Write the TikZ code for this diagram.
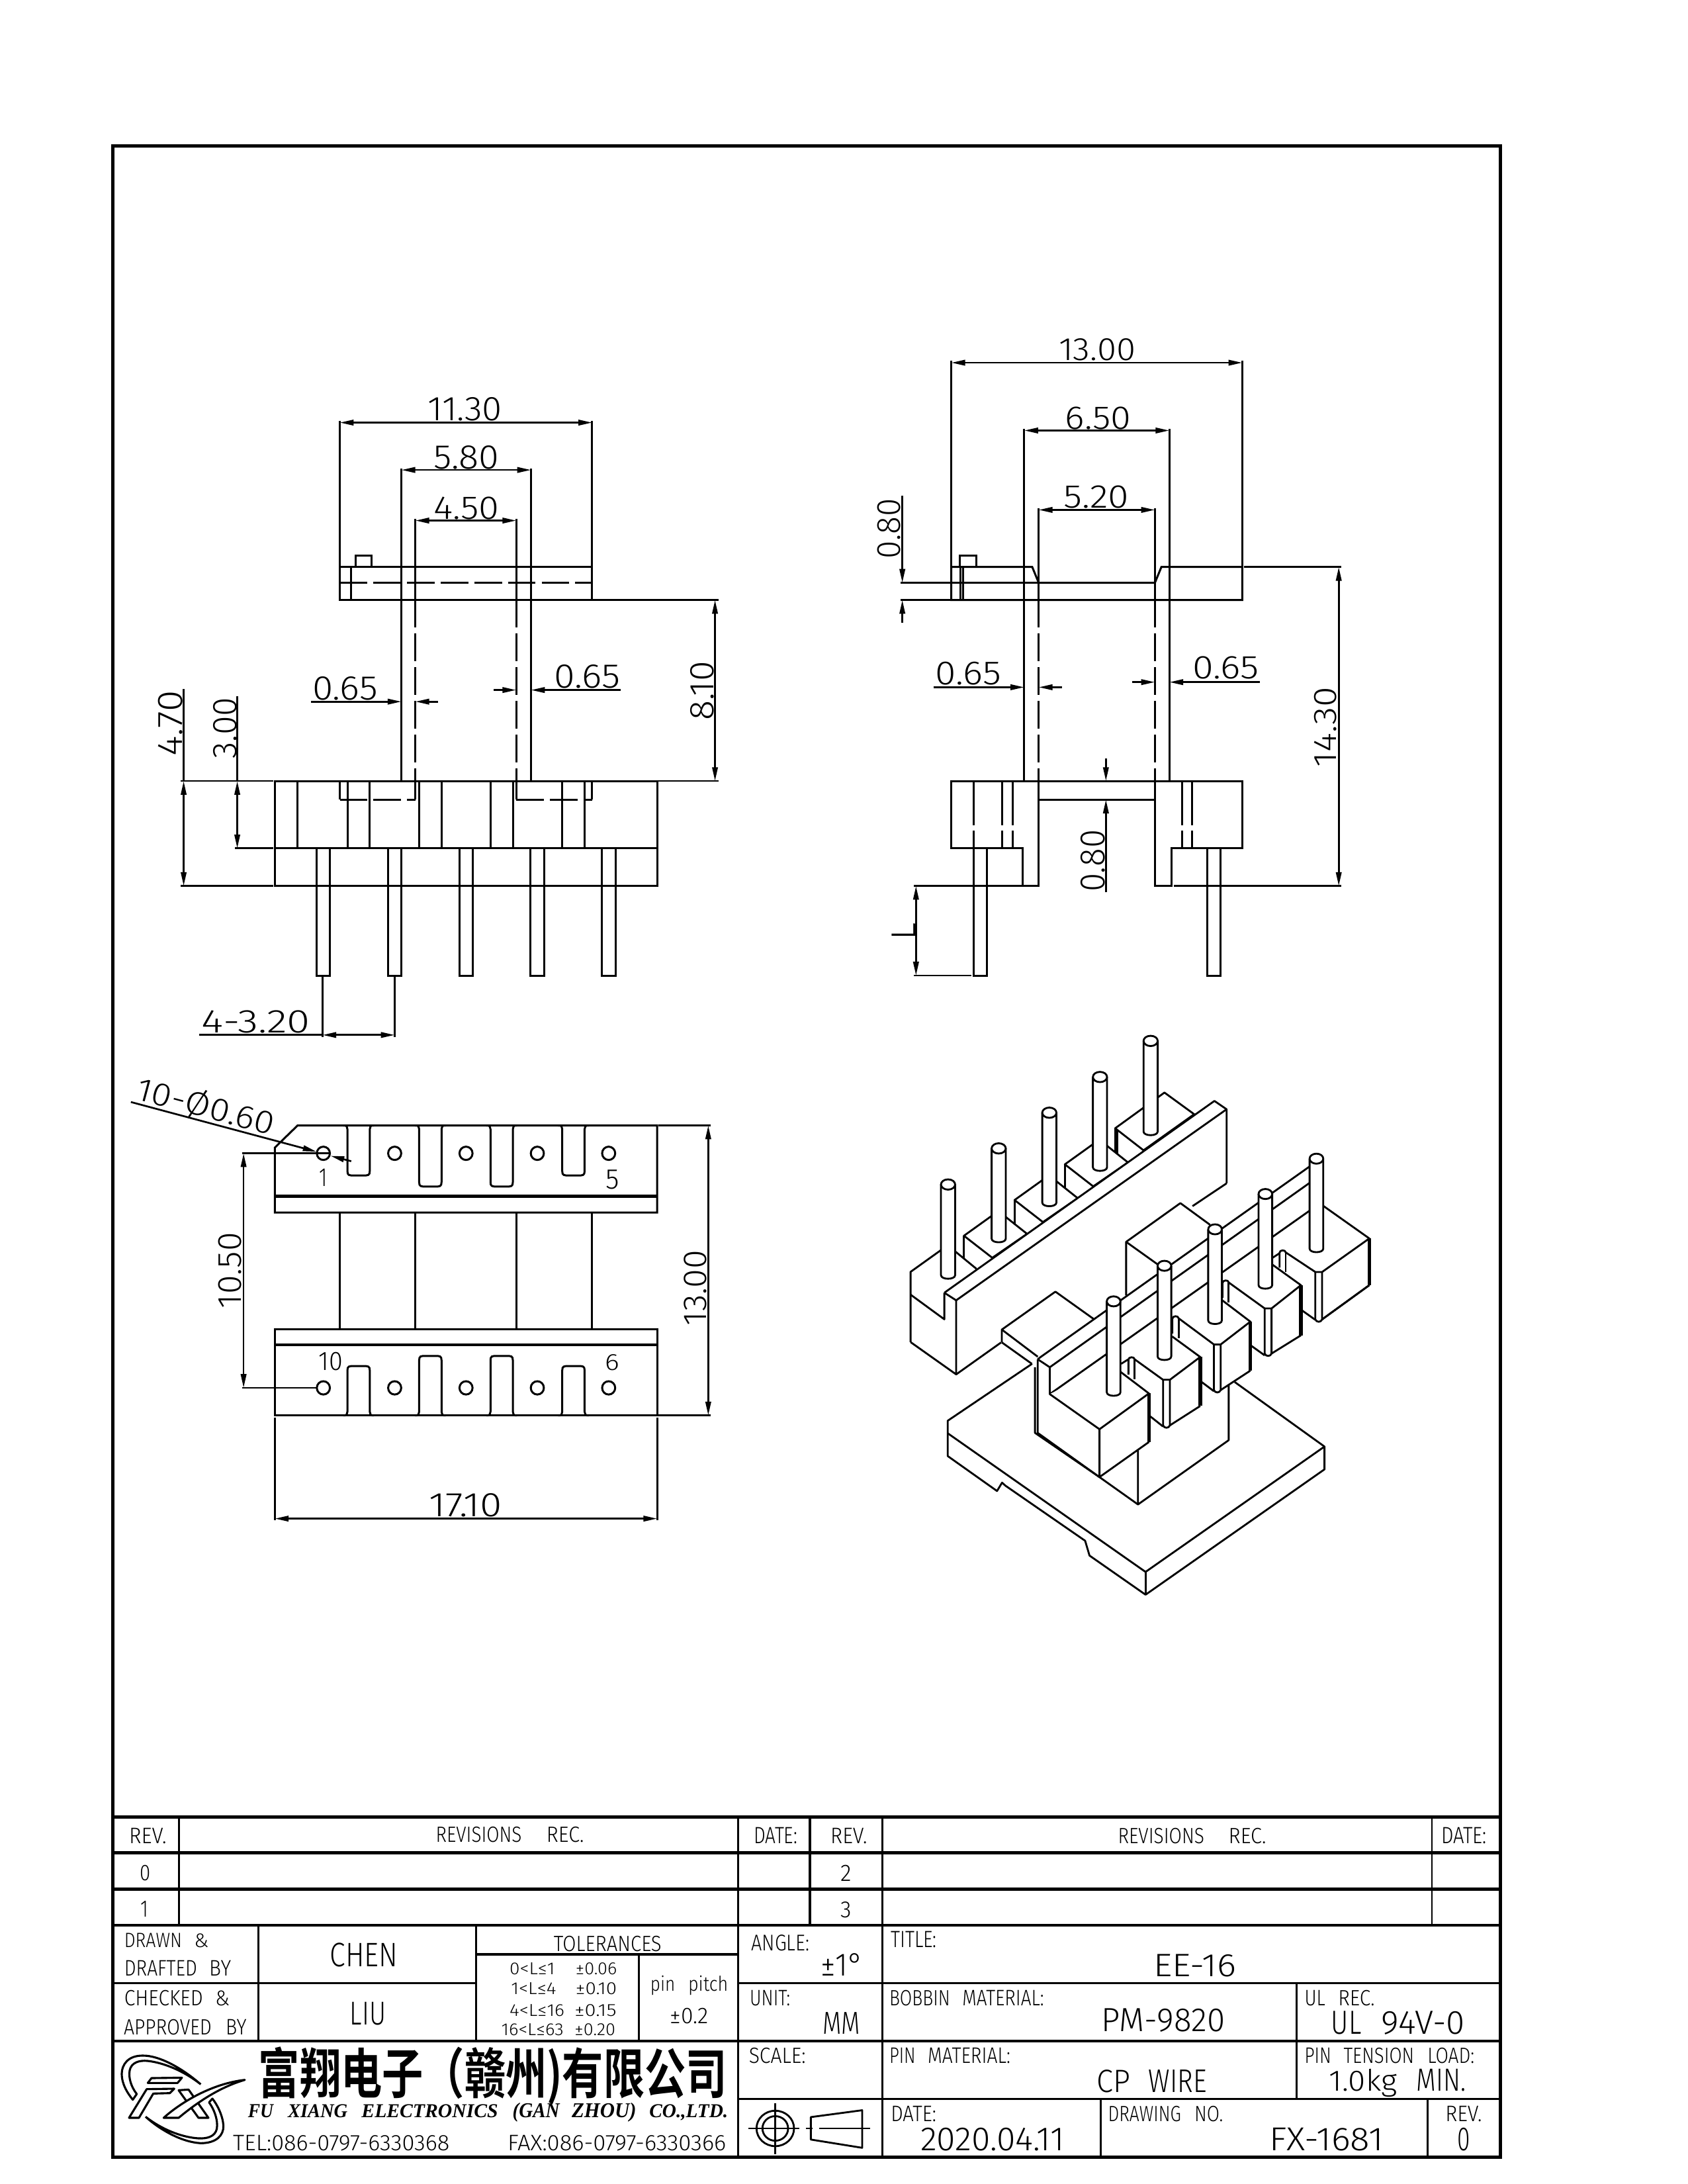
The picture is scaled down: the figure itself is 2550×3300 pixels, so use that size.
\documentclass[tikz,border=0pt]{standalone}
\usepackage{graphicx}
\usepackage{fontspec}
\usetikzlibrary{arrows.meta}
\setmainfont{Fira Sans Light}
\newfontfamily\cjkf{Noto Sans CJK SC Bold}
\newfontfamily\serf{Liberation Serif}
\newlength\pxu \setlength\pxu{0.24bp}
\def\zx{1}\def\zy{1}
% horizontal text: x1 x2 ybase ytop text
\newcommand\TXH[5]{%
  \pgfmathsetlengthmacro\tbw{(#2-#1)*\zx*0.2409}%
  \pgfmathsetlengthmacro\tbh{(#3-#4)*\zy*0.2409}%
  \pgfmathsetmacro\tbc{(#1+#2)/2}%
  \node[txt] at (\tbc,#3) {\resizebox{\tbw}{\tbh}{#5}};}
% rotated text: xbase xtop y1 y2 text
\newcommand\TXV[5]{%
  \pgfmathsetlengthmacro\tbw{(#4-#3)*\zy*0.2409}%
  \pgfmathsetlengthmacro\tbh{(#1-#2)*\zx*0.2409}%
  \pgfmathsetmacro\tbc{(#3+#4)/2}%
  \node[txt,rotate=90] at (#1,\tbc) {\resizebox{\tbw}{\tbh}{#5}};}
% plan-view slot
\newcommand\slotU[4]{%x1 x2 y0 yb
  \pgfmathsetmacro\sg{(#4>#3)?1:-1}%
  \draw[vw] ({#1-10},#3) .. controls ({#1-2},#3) .. (#1,{#3+\sg*12}) -- (#1,{#4-\sg*14}) .. controls (#1,#4) and ({#1+4},#4) .. ({#1+16},#4) -- ({#2-16},#4) .. controls ({#2-4},#4) and (#2,#4) .. (#2,{#4-\sg*14}) -- (#2,{#3+\sg*12}) .. controls ({#2+2},#3) .. ({#2+10},#3);}
% iso pin: c ytop ybottom halfwidth ry
\newcommand\ipin[5]{%
  \filldraw[iso,fill=white] ({#1-#4},#2) -- ({#1-#4},{#3-.7*#5}) .. controls ({#1-#4},{#3+.25*#5}) and ({#1+#4},{#3+.25*#5}) .. ({#1+#4},{#3-.7*#5}) -- ({#1+#4},#2);
  \filldraw[iso,fill=white] (#1,#2) ellipse [x radius=#4,y radius=#5];}
% iso front block
\newcommand\FB[9]{%nx ny cx cy rx ry bx by hr
  \fill[white] ({#1-15},{#2+12}) -- (#1,#2) -- ({#1+12},{#2+8}) -- (#3,#4) -- (#3,{#4+\hl}) -- ({#3+15},{#4+\hl+8}) -- ({#3+30},{#4+\hl}) -- (#5,{#6+#9}) -- (#5,#6) -- (#7,#8) -- cycle;
  \draw[iso] ({#1-15},{#2+75}) -- ({#1-15},{#2+10}) .. controls ({#1-15},{#2-4}) and ({#1+12},{#2-4}) .. ({#1+12},{#2+8}) -- (#3,#4) -- ({#3+30},#4) -- (#5,#6) -- (#7,#8);
  \draw[iso] ({#1+12},{#2+8}) -- ({#1+12},{#2+95});
  \draw[iso] (#3,#4) -- (#3,{#4+\hl}) .. controls ({#3+5},{#4+\hl+14}) and ({#3+25},{#4+\hl+14}) .. ({#3+30},{#4+\hl}) -- ({#3+30},#4);
  \draw[iso] ({#3+30},{#4+\hl}) -- (#5,{#6+#9});
  \draw[iso,line width=1.3bp] (#5,#6) -- (#5,{#6+#9});}
\tikzset{
  txt/.style={inner sep=0pt,outer sep=0pt,anchor=base},
  vw/.style={line width=0.72bp,line join=miter,black},
  hid/.style={vw,dash pattern=on 10bp off 2.2bp},
  dm/.style={line width=0.65bp,black},
  ar/.style={dm,-{Triangle[length=5bp,width=2bp]}},
  arb/.style={dm,{Triangle[length=5bp,width=2bp]}-{Triangle[length=5bp,width=2bp]}},
  iso/.style={line width=0.68bp,line join=round,black},
  tk/.style={line width=1.15bp,black},
  md/.style={line width=0.8bp,black},
  thn/.style={line width=0.65bp,black},
  lg/.style={line width=0.75bp,line join=round,black}
}
\begin{document}
\begin{tikzpicture}[x=0.24bp,y=-0.24bp]
\fill[white] (0,0) rectangle (2550,3300);
\useasboundingbox (0,0) rectangle (2550,3300);
% frame
\draw[line width=1.2bp] (170.5,220.5) rectangle (2267,3259);

%==================== FRONT VIEW
\def\zx{.6378}\def\zy{.7015}
\begin{scope}[shift={(150,480)},xscale=\zx,yscale=\zy]
\draw[vw] (570,537) rectangle (1168,608);
\draw[vw] (597,537) -- (597,608);
\draw[vw] (607,537) -- (607,513) -- (645,513) -- (645,537);
\draw[hid] (570,571) -- (1168,571);
\draw[vw] (716,325) -- (716,998);
\draw[vw] (1023,325) -- (1023,998);
\draw[vw] (749,433) -- (749,608);
\draw[vw] (988,433) -- (988,608);
\draw[hid] (749,608) -- (749,998);
\draw[hid] (988,608) -- (988,998);
\draw[vw] (570,222) -- (570,537);
\draw[vw] (1168,222) -- (1168,537);
\draw[vw] (416,998) rectangle (1322,1224);
\draw[vw] (416,1143) -- (1322,1143);
\foreach \x in {470,588,641,758,811,927,980,1097,1150} \draw[vw] (\x,998) -- (\x,1143);
\draw[vw] (570,998) -- (570,1038);
\draw[hid] (570,1038) -- (749,1038);
\draw[vw] (749,1038) -- (749,998);
\draw[vw] (988,998) -- (988,1038);
\draw[hid] (988,1038) -- (1168,1038);
\draw[vw] (1168,1038) -- (1168,998);
\foreach \x in {531,700,869,1038,1207} \draw[vw] ({\x-16},1143) -- ({\x-16},1417) -- ({\x+16},1417) -- ({\x+16},1143);
% dims
\draw[arb] (570,226) -- (1168,226);
\draw[arb] (716,328) -- (1023,328);
\draw[arb] (749,437) -- (988,437);
\draw[ar] (502,827) -- (716,827);
\draw[ar] (803,827) -- (749,827);
\draw[ar] (935,802) -- (988,802);
\draw[ar] (1236,802) -- (1023,802);
\draw[dm] (1168,608) -- (1467,608);
\draw[dm] (1325,998) -- (1467,998);
\draw[arb] (1459,608) -- (1459,998);
\draw[dm] (193,998) -- (413,998);
\draw[dm] (193,1224) -- (413,1224);
\draw[dm] (322,1143) -- (413,1143);
\draw[dm] (200,800) -- (200,998);
\draw[arb] (200,998) -- (200,1224);
\draw[dm] (327,815) -- (327,998);
\draw[arb] (327,998) -- (327,1143);
\draw[dm] (529,1420) -- (529,1550);
\draw[dm] (700,1420) -- (700,1550);
\draw[dm] (236,1545) -- (529,1545);
\draw[arb] (529,1545) -- (700,1545);
\TXH{778}{955}{222}{172}{11.30}
\TXH{792}{948}{326}{276}{5.80}
\TXH{792}{948}{434}{386}{4.50}
\TXH{505}{660}{823}{773}{0.65}
\TXH{1078}{1235}{798}{748}{0.65}
\TXV{1455}{1400}{740}{868}{8.10}
\TXV{197}{140}{803}{945}{4.70}
\TXV{325}{270}{818}{950}{3.00}
\TXH{243}{500}{1540}{1492}{4-3.20}
\end{scope}

%==================== SIDE VIEW
\def\zx{.574}\def\zy{.7015}
\begin{scope}[shift={(1250,480)},xscale=\zx,yscale=\zy]
\draw[vw] (327,608) -- (327,537) -- (540,537) -- (557,571) -- (863,571) -- (880,537) -- (1093,537) -- (1093,608) -- cycle;
\draw[vw] (327,571) -- (557,571);
\draw[vw] (351,537) -- (351,608);
\draw[vw] (358,537) -- (358,608);
\draw[vw] (349,537) -- (349,513) -- (392,513) -- (392,537);
\draw[vw] (519,240) -- (519,998);
\draw[vw] (901,240) -- (901,998);
\draw[vw] (557,410) -- (557,608);
\draw[vw] (863,410) -- (863,608);
\draw[hid] (557,608) -- (557,998);
\draw[hid] (863,608) -- (863,998);
\draw[vw] (327,92) -- (327,537);
\draw[vw] (1093,92) -- (1093,537);
\draw[vw] (557,998) -- (557,1224) -- (514,1224) -- (514,1143) -- (327,1143) -- (327,998) -- (1093,998) -- (1093,1143) -- (907,1143) -- (907,1224) -- (863,1224) -- (863,998);
\draw[vw] (557,1038) -- (863,1038);
\foreach \x in {385,460,488,935,961} \draw[vw,dash pattern=on 16bp off 2bp] (\x,998) -- (\x,1143);
\draw[vw] (385,1143) -- (385,1417) -- (420,1417) -- (420,1143);
\draw[vw] (1000,1143) -- (1000,1417) -- (1036,1417) -- (1036,1143);
% dims
\draw[dm] (193,571) -- (327,571);
\draw[dm] (193,608) -- (327,608);
\draw[dm] (228,1224) -- (514,1224);
\draw[dm] (912,1224) -- (1353,1224);
\draw[dm] (228,1417) -- (380,1417);
\draw[dm] (1098,537) -- (1353,537);
\draw[arb] (1347,537) -- (1347,1224);
\draw[arb] (234,1224) -- (234,1417);
\draw[ar] (198,383) -- (198,571);
\draw[ar] (198,657) -- (198,608);
\draw[ar] (734,950) -- (734,998);
\draw[ar] (734,1238) -- (734,1038);
\draw[arb] (327,97) -- (1093,97);
\draw[arb] (519,243) -- (901,243);
\draw[arb] (557,414) -- (863,414);
\draw[ar] (280,796) -- (519,796);
\draw[ar] (618,796) -- (557,796);
\draw[ar] (803,785) -- (863,785);
\draw[ar] (1140,785) -- (901,785);
\TXH{610}{812}{92}{45}{13.00}
\TXH{627}{800}{240}{192}{6.50}
\TXH{623}{795}{410}{362}{5.20}
\TXH{285}{458}{791}{742}{0.65}
\TXH{962}{1137}{778}{730}{0.65}
\TXV{193}{133}{390}{520}{0.80}
\TXV{730}{667}{1103}{1237}{0.80}
\TXV{1340}{1282}{795}{968}{14.30}
\TXV{232}{170}{1303}{1340}{L}
\end{scope}

%==================== PLAN VIEW
\def\zx{.6378}\def\zy{.4783}
\begin{scope}[shift={(150,1580)},xscale=\zx,yscale=\zy]
\draw[vw] (416,322) -- (470,252) -- (1322,252) -- (1322,527) -- (416,527) -- cycle;
\draw[vw,line width=1.1bp] (416,475) -- (1322,475);
\draw[vw] (416,895) rectangle (1322,1168);
\draw[vw,line width=1.1bp] (416,945) -- (1322,945);
\slotU{588}{641}{252}{410}
\slotU{758}{811}{252}{445}
\slotU{927}{980}{252}{445}
\slotU{1097}{1150}{252}{410}
\slotU{588}{641}{1168}{1012}
\slotU{758}{811}{1168}{980}
\slotU{927}{980}{1168}{980}
\slotU{1097}{1150}{1168}{1012}
\foreach \x in {531,700,869,1038,1207} {
  \draw[vw] (\x,340) ellipse [x radius=15.5,y radius=21];
  \draw[vw] (\x,1081) ellipse [x radius=15.5,y radius=21];}
\foreach \x in {570,749,988,1168} \draw[vw] (\x,527) -- (\x,895);
\draw[dm] (338,340) -- (545,340);
\draw[dm] (338,1081) -- (515,1081);
\draw[arb] (342,340) -- (342,1081);
\draw[dm] (1325,252) -- (1448,252);
\draw[dm] (1325,1168) -- (1448,1168);
\draw[arb] (1443,252) -- (1443,1168);
\draw[dm] (416,1175) -- (416,1500);
\draw[dm] (1322,1175) -- (1322,1500);
\draw[arb] (416,1494) -- (1322,1494);
\draw[ar] (75,178) -- (515,335);
\draw[ar] (597,365) -- (548,348);
\TXV{337}{283}{590}{830}{10.50}
\TXV{1438}{1385}{645}{885}{13.00}
\TXH{782}{955}{1488}{1415}{17.10}
\TXH{522}{541}{445}{390}{1}
\TXH{1200}{1232}{452}{392}{5}
\TXH{520}{577}{1025}{968}{10}
\TXH{1198}{1232}{1025}{975}{6}
\node[txt,rotate=-15] at (246,226) {\resizebox{214\pxu}{40\pxu}{10-Ø0.60}};
\end{scope}

%==================== ISO VIEW: plate and back row
\begin{scope}[shift={(1320,1520)},xscale=.5102,yscale=.5739]
% bottom plate
\draw[iso] (470,942) -- (220,1092) -- (220,1185) -- (366,1277) -- (381,1255) -- (391,1263) -- (627,1408) -- (640,1447) -- (806,1550) -- (1336,1220) -- (1336,1160) -- (1070,990);
\draw[iso] (220,1125) -- (806,1490) -- (1336,1160);
\draw[iso] (806,1490) -- (806,1550);
% back-row blocks
\draw[iso,fill=white] (716,322) -- (862,228) -- (950,285) -- (800,380) -- cycle;
\draw[iso] (716,322) -- (716,385);
\draw[iso] (722,328) -- (722,388);
\foreach \lx/\ly in {567/417,418/511,268/605} {
  \draw[iso,fill=white] (\lx,\ly) -- ({\lx+102},{\ly-65}) -- ({\lx+187},{\ly-5}) -- ({\lx+84},{\ly+58}) -- cycle;
  \draw[iso] (\lx,\ly) -- (\lx,{\ly+65});}
\fill[white] (110,700) -- (220,630) -- (305,692) -- (210,755) -- (210,825) -- (110,760) -- cycle;
\draw[iso] (110,885) -- (110,700) -- (220,630) -- (305,692);
\draw[iso] (110,760) -- (210,825) -- (210,755);
\foreach \c/\t/\b in {821/92/340,671/187/434,521/281/527,371/375/622,221/470/718} \ipin{\c}{\t}{\b}{21}{13.5}
% rail
\fill[white] (210,755) -- (1010,250) -- (1046,272) -- (1046,467) -- (245,970) -- (245,775) -- cycle;
\draw[iso] (210,755) -- (1010,250) -- (1046,272) -- (1046,467);
\draw[iso] (210,755) -- (245,775) -- (1046,272);
\draw[iso] (245,775) -- (245,970) -- (110,885);
\draw[iso] (245,970) -- (378,886);
\draw[iso] (945,527) -- (1046,467);
\end{scope}

%==================== ISO VIEW: small flange
\begin{scope}[shift={(1480,1900)},scale=.3333]
\draw[iso] (102,385) -- (102,327) -- (345,155) -- (520,280);
\draw[iso] (102,327) -- (265,450);
\draw[iso] (102,385) -- (238,482);
\end{scope}

%==================== ISO VIEW: front
\begin{scope}[shift={(1540,1780)},scale=.3444]
% core
\draw[iso] (470,515) -- (470,280) -- (708,110) -- (838,205);
\draw[iso] (470,280) -- (610,380);
\draw[iso] (920,900) -- (920,1150) -- (522,1432) -- (522,1190);
\draw[iso] (353,1312) -- (522,1432);
% strip
\draw[iso] (82,795) -- (95,785) -- (1305,-72);
\draw[iso] (135,830) -- (1305,0);
\draw[iso] (135,948) -- (1305,122);
% block 5
\draw[iso] (1238,578) -- (1300,622);
\draw[iso] (1112,350) -- (1143,330);
\def\hl{208}
\FB{1158}{318}{1300}{412}{1537}{265}{1335}{122}{205}
\draw[iso] (1330,620) -- (1537,470);
\draw[iso] (1537,265) -- (1537,470);
\ipin{1305}{-85}{325}{30}{22}
% block 4
\draw[iso] (1018,735) -- (1078,778);
\def\hl{198}
\FB{908}{450}{1078}{572}{1237}{470}{1112}{380}{220}
\ipin{1081}{70}{485}{30}{22}
% block 3
\draw[iso] (795,890) -- (855,935);
\def\hl{200}
\FB{688}{607}{855}{730}{1015}{630}{890}{535}{215}
\ipin{860}{225}{640}{30}{22}
% block 2
\draw[iso] (575,1045) -- (632,1090);
\draw[iso] (448,815) -- (480,795);
\FB{495}{787}{632}{885}{795}{785}{672}{695}{215}
\ipin{638}{385}{798}{30}{22}
% block 1
\fill[white] (82,795) -- (135,830) -- (135,948) -- (420,800) -- (445,850) -- (570,945) -- (570,1158) -- (353,1312) -- (82,1118) -- cycle;
\draw[iso] (82,795) -- (135,830) -- (135,948) -- (353,1102) -- (570,945) -- (445,850);
\draw[iso] (353,1102) -- (353,1312) -- (570,1158);
\draw[iso,line width=1.3bp] (570,945) -- (570,1158);
\draw[iso] (82,795) -- (82,1118) -- (353,1312);
\draw[iso] (70,830) -- (70,1118) -- (353,1312);
\ipin{415}{541}{955}{30}{22}
\end{scope}

%==================== TITLE BLOCK (left)
\def\zx{.7334}\def\zy{.3571}
\begin{scope}[shift={(160,2700)},xscale=\zx,yscale=\zy]
\foreach \y in {127,278,432,585,1075} \draw[tk] (15,\y) -- (2873,\y);
\draw[md] (15,830) -- (763,830);
\draw[md] (763,708) -- (1303,708);
\draw[thn] (151,127) -- (151,585);
\draw[thn] (1303,127) -- (1303,1565);
\draw[thn] (1450,127) -- (1450,585);
\draw[thn] (314,585) -- (314,1075);
\draw[thn] (763,585) -- (763,1075);
\draw[thn] (1098,708) -- (1098,1075);
\TXH{48}{125}{240}{175}{REV.}
\TXH{680}{857}{235}{170}{REVISIONS}
\TXH{908}{985}{235}{170}{REC.}
\TXH{1335}{1425}{238}{170}{DATE:}
\TXH{70}{92}{395}{330}{0}
\TXH{72}{88}{550}{483}{1}
\TXH{38}{157}{678}{618}{DRAWN}
\TXH{182}{212}{680}{622}{\&}
\TXH{38}{188}{800}{735}{DRAFTED}
\TXH{213}{258}{800}{735}{BY}
\TXH{38}{200}{925}{860}{CHECKED}
\TXH{225}{255}{925}{862}{\&}
\TXH{37}{218}{1048}{983}{APPROVED}
\TXH{247}{290}{1048}{983}{BY}
\TXH{462}{602}{760}{660}{CHEN}
\TXH{503}{577}{1008}{912}{LIU}
\TXH{923}{1145}{695}{630}{TOLERANCES}
\TXH{832}{925}{795}{745}{0<L≤1}
\TXH{968}{1053}{795}{745}{±0.06}
\TXH{835}{928}{878}{828}{1<L≤4}
\TXH{968}{1053}{878}{828}{±0.10}
\TXH{832}{945}{970}{920}{4<L≤16}
\TXH{966}{1052}{970}{920}{±0.15}
\TXH{815}{943}{1052}{1002}{16<L≤63}
\TXH{966}{1050}{1052}{1002}{±0.20}
\TXH{1122}{1173}{865}{800}{pin}
\TXH{1200}{1282}{865}{800}{pitch}
\TXH{1163}{1242}{1000}{935}{±0.2}
\TXH{1330}{1450}{692}{625}{ANGLE:}
\TXH{1327}{1410}{925}{860}{UNIT:}
\TXH{1325}{1442}{1170}{1105}{SCALE:}
\TXH{315}{1280}{1298}{1100}{\cjkf 富翔电子（赣州)有限公司}
\TXH{293}{345}{1400}{1345}{\serf\bfseries\itshape FU}
\TXH{375}{498}{1400}{1345}{\serf\bfseries\itshape XIANG}
\TXH{527}{808}{1400}{1345}{\serf\bfseries\itshape ELECTRONICS}
\TXH{838}{935}{1400}{1338}{\serf\bfseries\itshape (GAN}
\TXH{960}{1093}{1400}{1338}{\serf\bfseries\itshape ZHOU)}
\TXH{1120}{1282}{1400}{1345}{\serf\bfseries\itshape CO.,LTD.}
\TXH{262}{708}{1540}{1475}{TEL:086-0797-6330368}
\TXH{828}{1278}{1540}{1475}{FAX:086-0797-6330366}
\end{scope}

%==================== LOGO
\begin{scope}[shift={(160,3020)},scale=.3333]
\draw[lg] (430,388) .. controls (340,310) and (240,258) .. (170,258) .. controls (100,256) and (72,300) .. (72,340) .. controls (72,390) and (100,430) .. (122,458) -- (140,432) .. controls (115,400) and (102,360) .. (108,325) .. controls (115,290) and (150,278) .. (190,282) .. controls (260,290) and (350,325) .. (430,388);
\draw[lg] (180,535) .. controls (240,590) and (340,650) .. (430,655) .. controls (500,655) and (535,620) .. (533,575) .. controls (530,530) and (505,480) .. (483,453) -- (468,470) .. controls (490,500) and (510,550) .. (503,590) .. controls (495,625) and (460,635) .. (420,633) .. controls (340,628) and (250,590) .. (180,535);
\draw[lg] (207,360) -- (345,358) -- (325,382) -- (190,382) -- cycle;
\draw[lg] (105,540) -- (185,410) -- (310,408) -- (290,428) -- (215,430) -- (150,540) -- cycle;
\draw[lg] (330,415) -- (375,412) -- (465,540) -- (420,540) -- cycle;
\filldraw[lg,fill=white] (262,540) .. controls (340,470) and (480,385) .. (630,368) .. controls (520,400) and (420,465) .. (330,540) -- cycle;
\end{scope}

%==================== TITLE BLOCK (right)
\def\zx{.7462}\def\zy{.3571}
\begin{scope}[shift={(1100,2700)},xscale=\zx,yscale=\zy]
\draw[md] (20,830) -- (1565,830);
\draw[md] (20,1320) -- (1565,1320);
\draw[thn] (167,127) -- (167,585);
\draw[thn] (313,127) -- (313,1565);
\draw[thn] (1426,127) -- (1426,585);
\draw[thn] (1152,830) -- (1152,1320);
\draw[thn] (755,1320) -- (755,1565);
\draw[thn] (1417,1320) -- (1417,1565);
\draw[iso] (96,1445) ellipse [x radius=38,y radius=75];
\draw[iso] (96,1445) ellipse [x radius=26,y radius=52];
\draw[iso] (42,1445) -- (145,1445);
\draw[iso] (96,1338) -- (96,1555);
\draw[iso] (168,1397) -- (272,1368) -- (272,1527) -- (168,1492) -- cycle;
\draw[iso] (158,1445) -- (172,1445);
\draw[iso] (185,1445) -- (288,1445);
\TXH{208}{282}{240}{175}{REV.}
\TXH{790}{965}{240}{175}{REVISIONS}
\TXH{1014}{1090}{240}{175}{REC.}
\TXH{1445}{1537}{238}{170}{DATE:}
\TXH{228}{250}{398}{330}{2}
\TXH{228}{250}{552}{485}{3}
\TXH{188}{275}{800}{705}{±1°}
\TXH{330}{423}{680}{612}{TITLE:}
\TXH{862}{1030}{802}{708}{EE-16}
\TXH{192}{268}{1045}{953}{MM}
\TXH{327}{450}{925}{860}{BOBBIN}
\TXH{475}{640}{925}{860}{MATERIAL:}
\TXH{757}{1007}{1035}{938}{PM-9820}
\TXH{1168}{1210}{925}{860}{UL}
\TXH{1236}{1310}{925}{860}{REC.}
\TXH{1222}{1283}{1047}{950}{UL}
\TXH{1323}{1493}{1047}{950}{94V-0}
\TXH{327}{380}{1170}{1105}{PIN}
\TXH{405}{572}{1170}{1105}{MATERIAL:}
\TXH{747}{815}{1292}{1197}{CP}
\TXH{852}{970}{1292}{1197}{WIRE}
\TXH{1168}{1222}{1170}{1105}{PIN}
\TXH{1247}{1390}{1170}{1105}{TENSION}
\TXH{1417}{1512}{1170}{1105}{LOAD:}
\TXH{1218}{1355}{1288}{1195}{1.0kg}
\TXH{1395}{1495}{1288}{1195}{MIN.}
\TXH{330}{422}{1415}{1350}{DATE:}
\TXH{390}{682}{1538}{1442}{2020.04.11}
\TXH{770}{918}{1415}{1350}{DRAWING}
\TXH{945}{1003}{1415}{1350}{NO.}
\TXH{1097}{1328}{1538}{1442}{FX-1681}
\TXH{1453}{1527}{1415}{1350}{REV.}
\TXH{1477}{1503}{1538}{1442}{0}
\end{scope}
\end{tikzpicture}
\end{document}
